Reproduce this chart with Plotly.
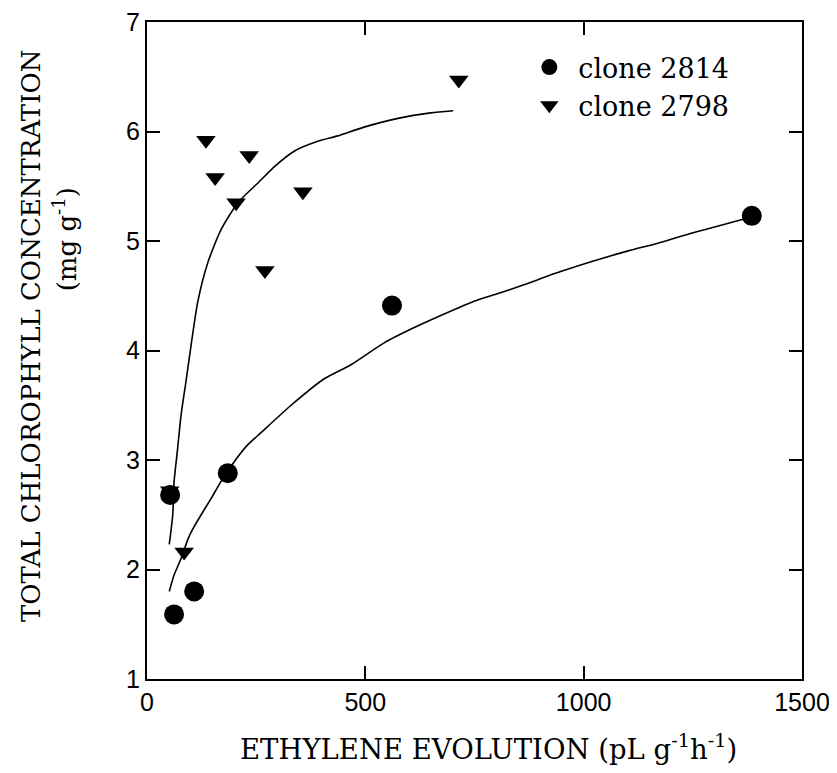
import plotly.graph_objects as go

# clone 2814 (circles)
c2814_x = [53, 62, 108, 185, 561, 1385]
c2814_y = [2.68, 1.59, 1.80, 2.88, 4.41, 5.23]

# clone 2798 (triangles)
c2798_x = [52, 85, 135, 156, 204, 234, 270, 357, 714]
c2798_y = [2.72, 2.16, 5.92, 5.58, 5.35, 5.78, 4.73, 5.45, 6.47]

# fitted curve, clone 2814
fit2814_x = [51, 62, 78, 94, 105, 124, 147, 169, 199, 231, 261, 330, 405, 467, 543,
             612, 673, 749, 804, 863, 932, 1017, 1102, 1170, 1246, 1321, 1367]
fit2814_y = [1.80, 1.95, 2.10, 2.28, 2.37, 2.50, 2.65, 2.80, 2.98, 3.14, 3.25, 3.50,
             3.74, 3.87, 4.07, 4.21, 4.32, 4.45, 4.52, 4.60, 4.70, 4.81, 4.91, 4.98,
             5.07, 5.15, 5.20]

# fitted curve, clone 2798
fit2798_x = [51, 59, 62, 70, 78, 89, 116, 139, 169, 208, 254, 292, 337, 391, 437,
             497, 575, 650, 701]
fit2798_y = [2.23, 2.50, 2.80, 3.10, 3.41, 3.71, 4.44, 4.80, 5.10, 5.35, 5.53, 5.68,
             5.82, 5.91, 5.96, 6.04, 6.12, 6.17, 6.19]

x_ticks = [0, 500, 1000, 1500]
y_ticks = [1, 2, 3, 4, 5, 6, 7]

SERIF = "DejaVu Serif"
SANS = "Liberation Sans"

fig = go.Figure()
fig.add_trace(go.Scatter(x=fit2814_x, y=fit2814_y, mode="lines",
                         line=dict(color="black", width=1.6, shape="spline", smoothing=0.6),
                         showlegend=False, hoverinfo="skip"))
fig.add_trace(go.Scatter(x=fit2798_x, y=fit2798_y, mode="lines",
                         line=dict(color="black", width=1.6, shape="spline", smoothing=0.6),
                         showlegend=False, hoverinfo="skip"))
fig.add_trace(go.Scatter(x=c2814_x, y=c2814_y, mode="markers", name="clone 2814",
                         marker=dict(symbol="circle", size=20, color="black")))
fig.add_trace(go.Scatter(x=c2798_x, y=c2798_y, mode="markers", name="clone 2798",
                         marker=dict(symbol="triangle-down", size=17, color="black")))

axis_common = dict(showgrid=False, zeroline=False, showline=True, linecolor="black", linewidth=2,
                   mirror="ticks", ticks="inside", ticklen=13, tickwidth=1.5, tickcolor="black",
                   automargin=False, ticklabeloverflow="allow",
                   tickfont=dict(family=SANS, size=25, color="black"))

fig.update_xaxes(range=[0, 1500], tickvals=x_ticks, ticktext=[str(v) for v in x_ticks], **axis_common)
fig.update_yaxes(range=[1, 7], tickvals=y_ticks, ticktext=[str(v) for v in y_ticks], **axis_common)

fig.add_annotation(text="TOTAL CHLOROPHYLL CONCENTRATION", xref="paper", yref="paper",
                   x=-0.177, y=0.522, xanchor="center", yanchor="middle", textangle=-90, showarrow=False,
                   font=dict(family=SERIF, size=26, color="black"))
fig.add_annotation(text="(mg g<sup>-1</sup>)", xref="paper", yref="paper",
                   x=-0.126, y=0.67, xanchor="center", yanchor="middle", textangle=-90, showarrow=False,
                   font=dict(family=SERIF, size=26, color="black"))
fig.add_annotation(text="ETHYLENE EVOLUTION (pL g<sup>-1</sup>h<sup>-1</sup>)", xref="paper", yref="paper",
                   x=0.521, y=-0.104, xanchor="center", yanchor="middle", showarrow=False,
                   font=dict(family=SERIF, size=27.5, color="black"))

fig.update_layout(
    width=837, height=773,
    margin=dict(l=139, r=43, t=14, b=102),
    paper_bgcolor="white", plot_bgcolor="white",
    legend=dict(x=0.57, y=0.968, xanchor="left", yanchor="top", bgcolor="rgba(0,0,0,0)",
                itemwidth=48,
                font=dict(family=SERIF, size=27, color="black"), tracegroupgap=0),
)

fig.write_html("out.html")
